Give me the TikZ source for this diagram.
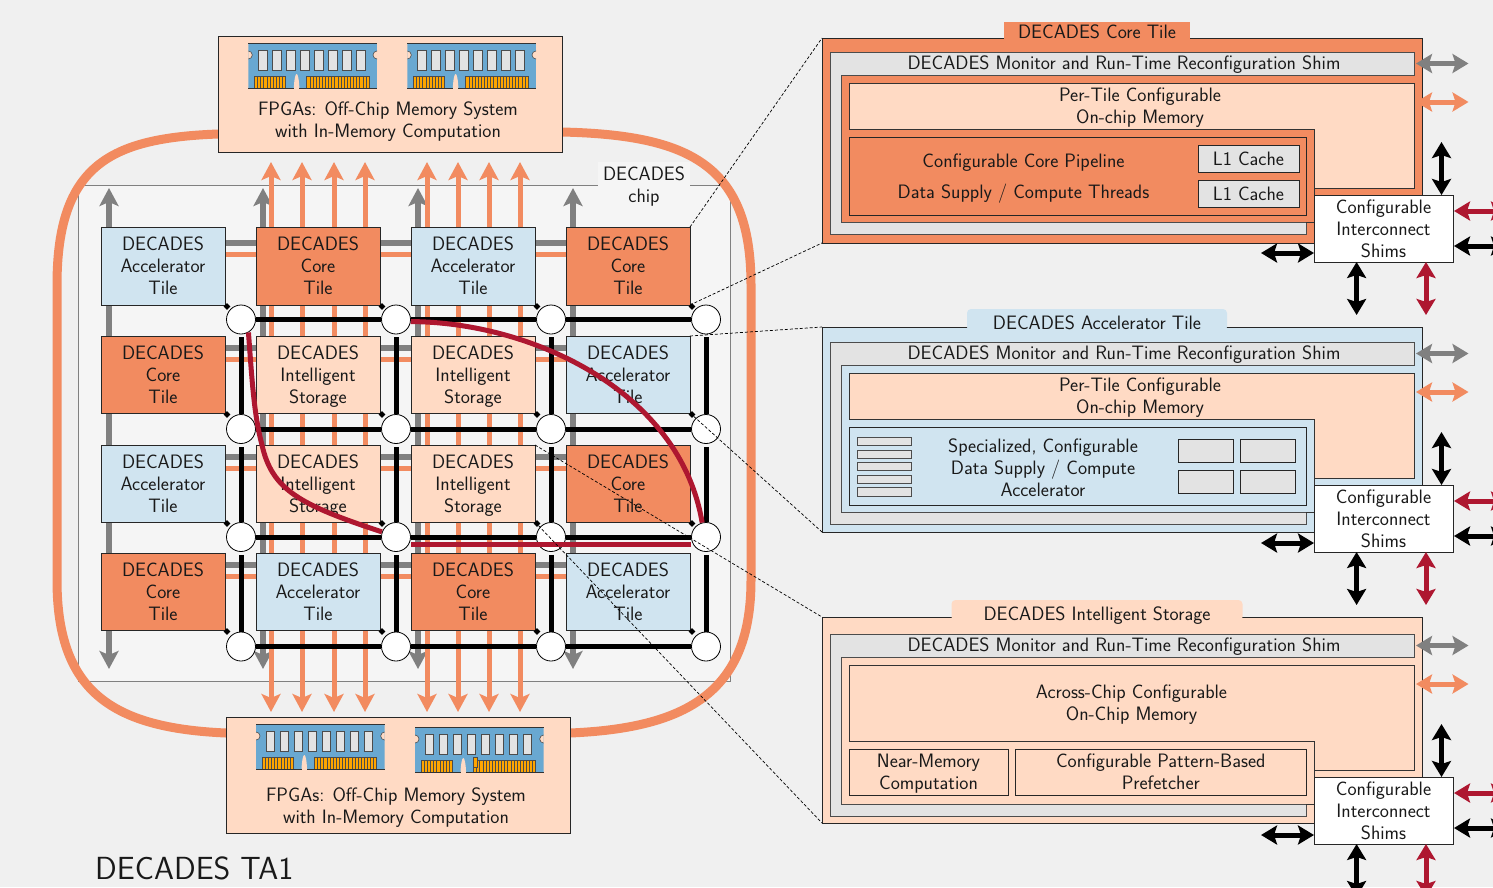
\documentclass[tikz,border=0pt]{standalone}
\usetikzlibrary{arrows.meta,shapes.geometric}
\definecolor{bgc}{HTML}{F0F0F0}
\definecolor{chipc}{HTML}{F5F5F5}
\definecolor{corec}{HTML}{F28B60}
\definecolor{accc}{HTML}{D0E4F0}
\definecolor{isc}{HTML}{FFDAC4}
\definecolor{shimc}{HTML}{E3E3E3}
\definecolor{grayl}{HTML}{808080}
\definecolor{redl}{HTML}{AE1730}
\definecolor{modc}{HTML}{69A8D1}
\definecolor{pinc}{HTML}{FFA500}
\pgfdeclarelayer{under}
\pgfdeclarelayer{lines}
\pgfsetlayers{under,lines,main}
\newcommand\lab{\sffamily\fontsize{19.4}{22}\selectfont}
\tikzset{
  txt/.style={font=\lab,align=center,inner sep=0pt,outer sep=0pt,text=black!90,
    execute at begin node={\rule{0pt}{20.4pt}},execute at end node=\strut},
  box/.style={draw=black!85,line width=0.8pt,inner sep=0pt,outer sep=0pt},
  acc/.style={box,fill=accc},
  cor/.style={box,fill=corec},
  ist/.style={box,fill=isc},
  router/.style={circle,draw=black,fill=white,line width=0.8pt,minimum size=29pt,inner sep=0pt},
  dia/.style={diamond,fill=black,inner sep=0pt,minimum size=7pt},
  link/.style={draw=black,line width=5pt},
  vlink/.style={link,shorten <=3pt},
  gbar/.style={draw=grayl,line width=6pt},
  obar/.style={draw=corec,line width=5pt},
  gv/.style={draw=grayl,line width=6pt,{Stealth[length=18pt,width=19pt,inset=4pt]}-{Stealth[length=18pt,width=19pt,inset=4pt]}},
  ov/.style={draw=corec,line width=5pt,{Stealth[length=18pt,width=19pt,inset=4pt]}-{Stealth[length=18pt,width=19pt,inset=4pt]}},
  dbl/.style={line width=5pt,{Stealth[length=16pt,width=19pt,inset=3pt]}-{Stealth[length=16pt,width=19pt,inset=3pt]}},
  redpath/.style={draw=redl,line width=5pt},
  dashline/.style={draw=black,line width=0.7pt,dash pattern=on 3pt off 2pt},
  ring/.style={draw=corec,line width=9pt},
  shim/.style={draw=black!70,fill=shimc,line width=0.8pt},
  inner/.style={draw=black!80,line width=0.8pt}
}
\newcommand\bxshift{3pt}
\newcommand\bx[7][]{\node[box,#1,minimum width={(#5-#3)*1pt},minimum height={(#6-#4)*1pt}] (#2) at ({(#3+#5)/2},{(#4+#6)/2}) {};%
  \if\relax\detokenize{#7}\relax\else\node[txt,yshift=-\bxshift] (#2text) at (#2.center) {#7};\fi}
\newcommand\tile[5]{\bx[#1]{#2}{#3}{#4}{#3+124}{#4+#5}}
\newcommand\memmod[2]{%
\begin{scope}[shift={(#1,#2)}]
  \begin{scope}
    \clip (0,0) rectangle (128.7,45);
    \fill[modc] (0,0) rectangle (128.7,45);
    \draw[fill=isc,draw=black!70,line width=0.6pt] (0,12) circle (4);
    \draw[fill=isc,draw=black!70,line width=0.6pt] (128.7,12) circle (4);
  \end{scope}
  \draw[black!80,line width=0.8pt] (0,0) -- (128.7,0);
  \foreach \i in {0,...,7} {\draw[fill=shimc,draw=black!70,line width=0.8pt] ({10+14*\i},7.7) rectangle ({18.7+14*\i},27.7);}
  \draw[fill=pinc,draw=black!70,line width=0.5pt] (6,33) rectangle (37.4,45);
  \draw[fill=pinc,draw=black!70,line width=0.5pt] (58.4,33) rectangle (120.7,45);
  \foreach \i in {1,...,9} {\draw[black!70,line width=0.5pt] ({6+3.14*\i},33) -- ({6+3.14*\i},45);}
  \foreach \i in {1,...,19} {\draw[black!70,line width=0.5pt] ({58.4+3.115*\i},33) -- ({58.4+3.115*\i},45);}
  \fill[isc] (45.5,45) .. controls (46,36) and (47,31) .. (48.3,31) .. controls (49.6,31) and (50.6,36) .. (51.1,45) -- cycle;
  \draw[black!80,line width=0.8pt] (0,45) -- (45.5,45) (51.1,45) -- (128.7,45);
\end{scope}}
\newcommand\panelparts[4]{%
\begin{scope}[shift={(0,#1)}]
  \draw[shim] (830,52) -- (1414,52) -- (1414,75) -- (841,75) -- (841,222) -- (1306,222) -- (1306,234) -- (830,234) -- cycle;
  \node[txt] (#2mon) at (1124,63) {DECADES Monitor and Run-Time Reconfiguration Shim};
  \draw[inner,fill=isc] (849,83) -- (1414,83) -- (1414,188) -- (1314,188) -- (1314,#3) -- (849,#3) -- cycle;
  \draw[inner] (1306,222) -- (1314,222) -- (1314,188);
  \bx[fill=white]{#2ic}{1314}{195}{1453}{262}{Configurable\\Interconnect\\Shims}
  \coordinate (#2ga) at (1416,63.5); \coordinate (#2gb) at (1468.5,63.5);
  \coordinate (#2oa) at (1416,102); \coordinate (#2ob) at (1468.5,102);
  \coordinate (#2na) at (1441.5,142); \coordinate (#2nb) at (1441.5,195);
  \coordinate (#2ra) at (1454,211); \coordinate (#2rb) at (1507,211);
  \coordinate (#2ka) at (1454,246); \coordinate (#2kb) at (1507,246);
  \coordinate (#2la) at (1261,253); \coordinate (#2lb) at (1314,253);
  \coordinate (#2sa) at (1356.6,262); \coordinate (#2sb) at (1356.6,315);
  \coordinate (#2ta) at (1426,262); \coordinate (#2tb) at (1426,315);
  \draw[dbl,draw=grayl] (#2ga) -- (#2gb);
  \draw[dbl,draw=corec] (#2oa) -- (#2ob);
  \draw[dbl,draw=black] (#2na) -- (#2nb);
  \draw[dbl,draw=redl] (#2ra) -- (#2rb);
  \draw[dbl,draw=black] (#2ka) -- (#2kb);
  \draw[dbl,draw=black] (#2la) -- (#2lb);
  \draw[dbl,draw=black] (#2sa) -- (#2sb);
  \draw[dbl,draw=redl] (#2ta) -- (#2tb);
\end{scope}}
\begin{document}
\begin{tikzpicture}[x=1pt,y=-1pt]
\useasboundingbox (0,0) rectangle (1493,887);
\begin{pgfonlayer}{under}
  \fill[bgc] (0,0) rectangle (1493,887);
  \draw[fill=chipc,draw=grayl,line width=0.8pt] (78,185) rectangle (730,681);
\end{pgfonlayer}
% chip label
\node[txt,fill=chipc,minimum width=92pt,minimum height=51pt] (chiplabel) at (644,187.5) {DECADES\\chip};
% ring
\coordinate (ra) at (218,134); \coordinate (rb) at (57,285); \coordinate (rc) at (57,580); \coordinate (rd) at (226,733);
\coordinate (re) at (562,132); \coordinate (rf) at (751,285); \coordinate (rg) at (751,580); \coordinate (rh) at (570,733);
\draw[ring] (ra) .. controls (110,138) and (57,165) .. (rb) -- (rc) .. controls (57,690) and (110,728) .. (rd);
\draw[ring] (re) .. controls (690,135) and (751,165) .. (rf) -- (rg) .. controls (751,690) and (690,728) .. (rh);
% FPGA boxes
\bx[ist]{ftop}{218}{36}{562}{152}{}
\bx[ist]{fbot}{226}{717}{570}{833}{}
\node[txt] (ftext) at (388,123) {FPGAs: Off-Chip Memory System\\with In-Memory Computation};
\node[txt] (btext) at (396,808.5) {FPGAs: Off-Chip Memory System\\with In-Memory Computation};
\memmod{248.3}{43}
\memmod{407.3}{43}
\memmod{256}{724}
\memmod{415}{727}
\draw[fill=pinc,draw=black!70,line width=0.5pt] (473,757) rectangle (477,767);
% tiles
\tile{acc}{t11}{101}{227}{78}{DECADES\\Accelerator\\Tile}
\tile{cor}{t12}{256}{227}{78}{DECADES\\Core\\Tile}
\tile{acc}{t13}{411}{227}{78}{DECADES\\Accelerator\\Tile}
\tile{cor}{t14}{566}{227}{78}{DECADES\\Core\\Tile}
\tile{cor}{t21}{101}{336}{77}{DECADES\\Core\\Tile}
\tile{ist}{t22}{256}{336}{77}{DECADES\\Intelligent\\Storage}
\tile{ist}{t23}{411}{336}{77}{DECADES\\Intelligent\\Storage}
\tile{acc}{t24}{566}{336}{77}{DECADES\\Accelerator\\Tile}
\tile{acc}{t31}{101}{445}{77}{DECADES\\Accelerator\\Tile}
\tile{ist}{t32}{256}{445}{77}{DECADES\\Intelligent\\Storage}
\tile{ist}{t33}{411}{445}{77}{DECADES\\Intelligent\\Storage}
\tile{cor}{t34}{566}{445}{77}{DECADES\\Core\\Tile}
\tile{cor}{t41}{101}{553}{77}{DECADES\\Core\\Tile}
\tile{acc}{t42}{256}{553}{77}{DECADES\\Accelerator\\Tile}
\tile{cor}{t43}{411}{553}{77}{DECADES\\Core\\Tile}
\tile{acc}{t44}{566}{553}{77}{DECADES\\Accelerator\\Tile}
% bars and arrows beneath the tiles
\begin{pgfonlayer}{lines}
  \foreach \rr/\gy/\oy in {1/243/254,2/348/359,3/457/468,4/565/576} {
    \coordinate (gba\rr) at (225,\gy); \coordinate (gbb\rr) at (690,\gy);
    \coordinate (oba\rr) at (225,\oy); \coordinate (obb\rr) at (690,\oy);
    \draw[gbar] (gba\rr) -- (gbb\rr);
    \draw[obar] (oba\rr) -- (obb\rr);
  }
  \foreach \xx/\nn in {109/1,263/2,418/3,573/4} {
    \coordinate (gva\nn) at (\xx,188); \coordinate (gvb\nn) at (\xx,669);
    \draw[gv] (gva\nn) -- (gvb\nn);
  }
  \foreach \xx/\nn in {271/1,302/2,334/3,365/4,427/5,458/6,489/7,520/8} {
    \coordinate (ova\nn) at (\xx,162); \coordinate (ovb\nn) at (\xx,712);
    \draw[ov] (ova\nn) -- (ovb\nn);
  }
\end{pgfonlayer}
% routers
\foreach \rr/\yy in {1/319.5,2/429,3/537,4/646.5} \foreach \cc/\xx in {1/241,2/396,3/551,4/706} {
  \node[router] (r\rr\cc) at (\xx,\yy) {};
  \node[dia] (d\rr\cc) at ([xshift=2pt,yshift=-1.5pt]t\rr\cc.south east) {};
}
\foreach \rr in {1,2,3,4} {
  \draw[link] (r\rr1) -- (r\rr2);
  \draw[link] (r\rr2) -- (r\rr3);
  \draw[link] (r\rr3) -- (r\rr4);
}
\foreach \cc in {1,2,3,4} {
  \draw[vlink] (r1\cc) -- (r2\cc);
  \draw[vlink] (r2\cc) -- (r3\cc);
  \draw[vlink] (r3\cc) -- (r4\cc);
}
% red routes
\draw[redpath] (r12.-8) .. controls (530,322) and (680,390) .. (r34.105);
\draw[redpath] ([yshift=-7pt]r32.east) -- ([yshift=-7pt]r34.west);
\coordinate (rm) at (262,445);
\draw[redpath] (r11.-60) .. controls (252,380) and (254,415) .. (rm) .. controls (272,490) and (300,505) .. (r32.160);
% detail panels
\begin{scope}
\clip (0,0) rectangle (1493,887);
\bx[cor]{pc}{822}{38}{1422}{243}{}
\fill[corec] (1004,22) rectangle (1190,39);
\node[txt] (pct) at (1097,32) {DECADES Core Tile};
\panelparts{0}{c}{129}{}
\node[txt] (cmem) at (1140,109) {Per-Tile Configurable\\On-chip Memory};
\bx[cor]{cpipe}{849}{137}{1306}{215}{}
\node[txt] (cp1) at (1023.5,161) {Configurable Core Pipeline};
\node[txt] (cp2) at (1023.5,192) {Data Supply / Compute Threads};
{\renewcommand\bxshift{0pt}
\bx[fill=shimc]{cl1}{1198}{145}{1299}{172}{L1 Cache}
\bx[fill=shimc]{cl2}{1198}{180}{1299}{207}{L1 Cache}}
%
\bx[acc]{pa}{822}{327}{1422}{532}{}
\fill[accc,rounded corners=4pt] (967,309) rectangle (1227,331);
\node[txt] (pat) at (1097,323) {DECADES Accelerator Tile};
\panelparts{290}{a}{129}{}
\node[txt] (amem) at (1140,399) {Per-Tile Configurable\\On-chip Memory};
\bx[acc]{apipe}{849}{427}{1306}{505}{}
\foreach \y/\h in {437/8,450/8,462/8,475/8,487/9} {\draw[fill=shimc,draw=black!70,line width=0.8pt] (857,\y) rectangle (911.5,\y+\h);}
\node[txt] (atxt) at (1043,471) {Specialized, Configurable\\Data Supply / Compute\\Accelerator};
\bx[fill=shimc]{ab1}{1178}{439}{1233}{462.5}{}
\bx[fill=shimc]{ab2}{1240}{439}{1295}{462.5}{}
\bx[fill=shimc]{ab3}{1178}{470}{1233}{493.5}{}
\bx[fill=shimc]{ab4}{1240}{470}{1295}{493.5}{}
%
\bx[ist]{pi}{822}{617}{1422}{823}{}
\fill[isc,rounded corners=4pt] (951.5,600) rectangle (1242.5,621);
\node[txt] (pit) at (1097,614) {DECADES Intelligent Storage};
\panelparts{582}{i}{159}{}
\node[txt] (imem) at (1131.5,706) {Across-Chip Configurable\\On-Chip Memory};
\bx[ist]{inear}{849}{749}{1008}{795}{Near-Memory\\Computation}
\bx[ist]{ipre}{1015.6}{749}{1306}{795}{Configurable Pattern-Based\\Prefetcher}
\end{scope}
% dashed
\draw[dashline] (t14.north east) -- (pc.north west);
\draw[dashline] (t14.south east) -- (pc.south west);
\draw[dashline] (t24.north east) -- (pa.north west);
\draw[dashline] (t24.south east) -- (pa.south west);
\draw[dashline] (t33.north east) -- (pi.north west);
\draw[dashline] (t33.south east) -- (pi.south west);
\node[font=\sffamily\fontsize{32}{36}\selectfont,anchor=west,inner sep=0pt,text=black!90] (title) at (95,868) {DECADES TA1};
\end{tikzpicture}
\end{document}
